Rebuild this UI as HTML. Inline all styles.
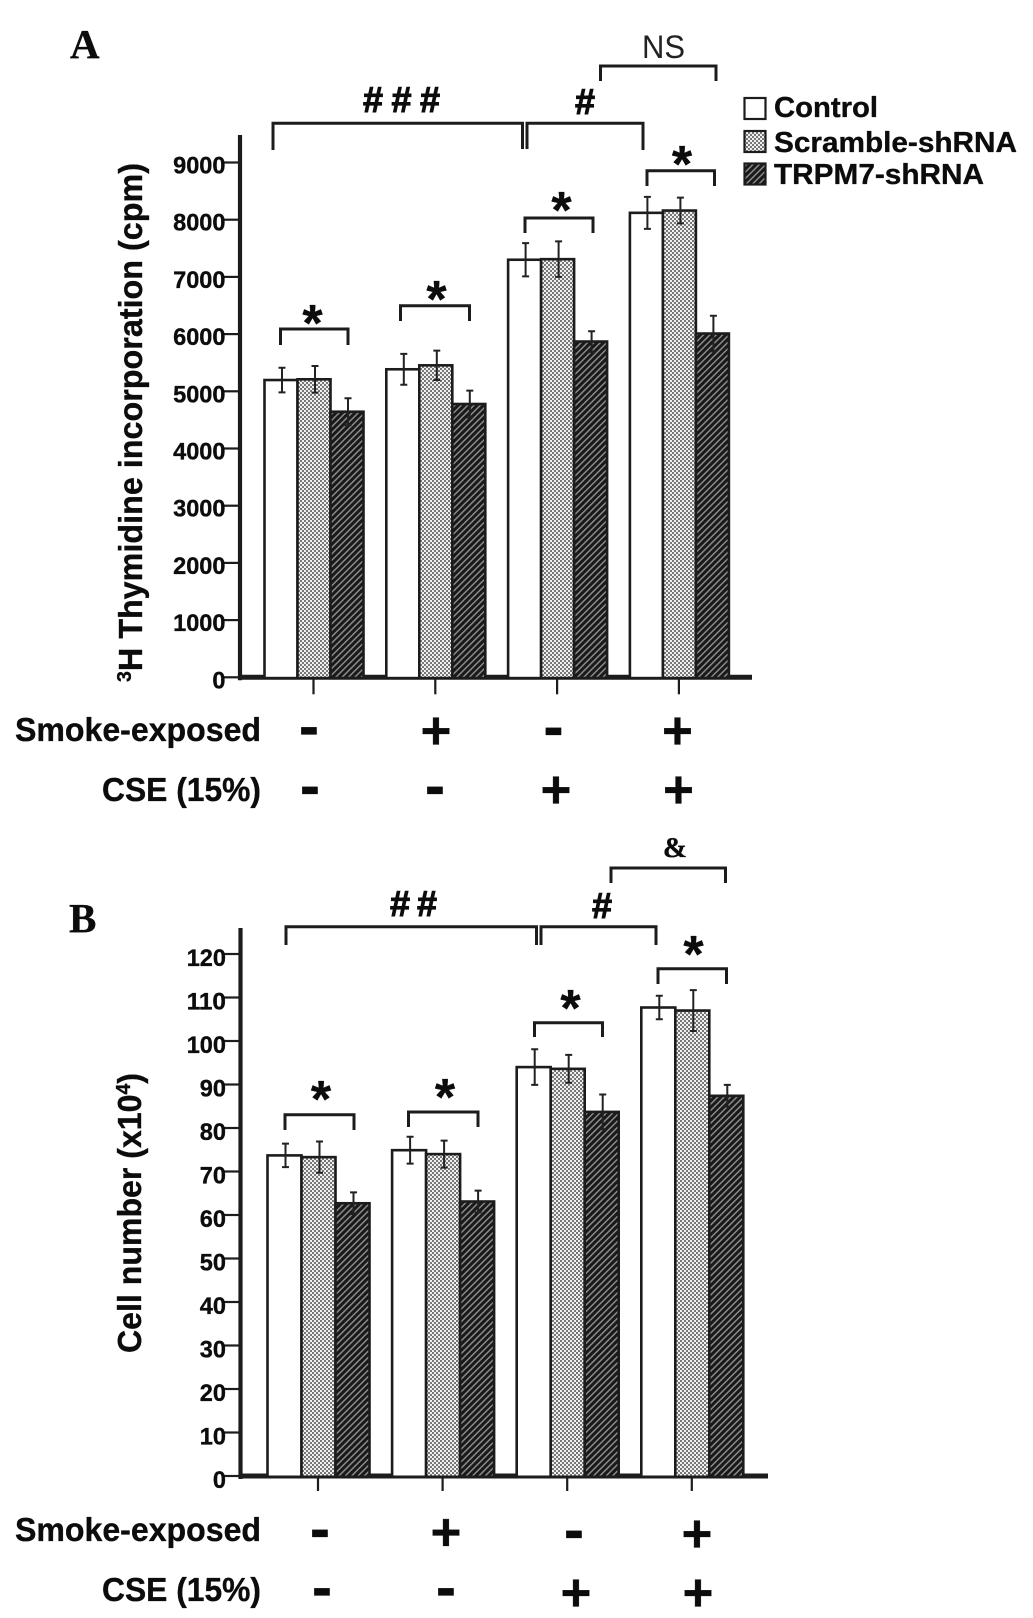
<!DOCTYPE html>
<html lang="en">
<head>
<meta charset="utf-8">
<title>Thymidine incorporation and cell number</title>
<style>
html,body{margin:0;padding:0;background:#fff;}
svg{display:block;}
text{font-family:"Liberation Sans",sans-serif;font-weight:bold;fill:#0c0c0c;stroke:#0c0c0c;stroke-width:.35px;}
.serif{font-family:"Liberation Serif",serif;}
.hash{stroke-width:1px;}
.bk{fill:none;stroke:#1c1c1c;stroke-width:3;}
</style>
</head>
<body>
<svg id="chart" xmlns="http://www.w3.org/2000/svg" width="1033" height="1618" viewBox="0 0 1033 1618">
<defs>
<pattern id="dots" width="4" height="4" patternUnits="userSpaceOnUse">
<rect width="4" height="4" fill="#f0f0f0"/>
<rect width="2" height="2" fill="#777"/>
<rect x="2" y="2" width="2" height="2" fill="#777"/>
</pattern>
<pattern id="hatch" width="4.500" height="4.500" patternUnits="userSpaceOnUse" patternTransform="rotate(45)">
<rect width="4.500" height="4.500" fill="#191919"/>
<rect width="1.500" height="4.500" fill="#8a8a8a"/>
</pattern>
</defs>
<rect width="1033" height="1618" fill="#fff"/>

<text class="serif" x="70" y="58" font-size="41">A</text>
<text class="serif" x="69" y="932" font-size="41">B</text>

<g>
<path class="bk" d="M273 150V123.300H522.500V149"/>
<path class="bk" d="M527 149V123.300H643V150"/>
<path class="bk" d="M600.500 81V66H716V81"/>
<path class="bk" d="M280.500 345V329H348V345"/>
<path class="bk" d="M400.500 321V305.700H469.500V321"/>
<path class="bk" d="M525 233V218H593V233"/>
<path class="bk" d="M647 186V170.700H714.500V186"/>
<text x="663.500" y="58" font-size="32" text-anchor="middle" textLength="43" lengthAdjust="spacingAndGlyphs" style="font-weight:normal;fill:#222;stroke:none">NS</text>
<text class="hash" x="363" y="112" font-size="36" letter-spacing="8.500">###</text>
<text class="hash" x="585" y="114" font-size="36" text-anchor="middle">#</text>
<text x="312.500" y="341" font-size="52" text-anchor="middle">*</text>
<text x="436.500" y="317" font-size="52" text-anchor="middle">*</text>
<text x="561.500" y="228" font-size="52" text-anchor="middle">*</text>
<text x="682" y="182" font-size="52" text-anchor="middle">*</text>
</g>

<g>
<g>
<rect x="744.500" y="98" width="21" height="21" fill="#fff" stroke="#1c1c1c" stroke-width="2.200"/>
<text x="774" y="117" font-size="29" textLength="104" lengthAdjust="spacingAndGlyphs">Control</text>
</g>
<g>
<rect x="744.500" y="131" width="21" height="21" fill="url(#dots)" stroke="#1c1c1c" stroke-width="2.200"/>
<text x="774" y="152" font-size="29" textLength="243" lengthAdjust="spacingAndGlyphs">Scramble-shRNA</text>
</g>
<g>
<rect x="744.500" y="163.500" width="21" height="21" fill="url(#hatch)" stroke="#1c1c1c" stroke-width="2.200"/>
<text x="774" y="184" font-size="29" textLength="210" lengthAdjust="spacingAndGlyphs">TRPM7-shRNA</text>
</g>
</g>

<text transform="translate(142,682) rotate(-90)" font-size="33" textLength="519" lengthAdjust="spacingAndGlyphs"><tspan font-size="20" dy="-11">3</tspan><tspan dy="11">H Thymidine incorporation (cpm)</tspan></text>

<text x="261" y="741" font-size="33" text-anchor="end" textLength="246" lengthAdjust="spacingAndGlyphs">Smoke-exposed</text>
<text x="261" y="801" font-size="33" text-anchor="end" textLength="159" lengthAdjust="spacingAndGlyphs">CSE (15%)</text>

<g>
<path class="bk" d="M286 945V926.700H536.500V945"/>
<path class="bk" d="M541 945V926.700H656V945"/>
<path class="bk" d="M611 883V868H725.500V883"/>
<path class="bk" d="M285 1130V1114.700H354V1130"/>
<path class="bk" d="M408.500 1127V1112H478V1127"/>
<path class="bk" d="M534.500 1037V1022.700H602.500V1037"/>
<path class="bk" d="M658 984V968.700H726.500V984"/>
<text class="serif" x="675" y="857" font-size="29" text-anchor="middle">&amp;</text>
<text class="hash" x="390" y="916" font-size="36" letter-spacing="7">##</text>
<text class="hash" x="602" y="918" font-size="36" text-anchor="middle">#</text>
<text x="321" y="1117" font-size="52" text-anchor="middle">*</text>
<text x="445" y="1115" font-size="52" text-anchor="middle">*</text>
<text x="570.500" y="1026" font-size="52" text-anchor="middle">*</text>
<text x="693.500" y="972" font-size="52" text-anchor="middle">*</text>
</g>

<text transform="translate(141,1353) rotate(-90)" font-size="33" textLength="280" lengthAdjust="spacingAndGlyphs"><tspan>Cell number (x10</tspan><tspan font-size="20" dy="-11">4</tspan><tspan dy="11">)</tspan></text>

<text x="261" y="1541" font-size="33" text-anchor="end" textLength="246" lengthAdjust="spacingAndGlyphs">Smoke-exposed</text>
<text x="261" y="1601" font-size="33" text-anchor="end" textLength="159" lengthAdjust="spacingAndGlyphs">CSE (15%)</text>

<g id="marks"></g>
</svg>
<script>
const seriesNames = ['control', 'scramble', 'trpm7'];
const seriesFills = ['#fff', 'url(#dots)', 'url(#hatch)'];

const ticksA = [0, 1000, 2000, 3000, 4000, 5000, 6000, 7000, 8000, 9000];
const controlA = [5197, 5385, 7300, 8120];
const scrambleA = [5210, 5454, 7310, 8160];
const trpm7A = [4643, 4778, 5870, 6010];
const controlErrA = [215, 270, 290, 280];
const scrambleErrA = [233, 257, 310, 225];
const trpm7ErrA = [236, 233, 180, 310];
const smokeA = ['-', '+', '-', '+'];
const cseA = ['-', '-', '+', '+'];

const ticksB = [0, 10, 20, 30, 40, 50, 60, 70, 80, 90, 100, 110, 120];
const controlB = [73.7, 74.9, 94, 107.7];
const scrambleB = [73.3, 74, 93.6, 107];
const trpm7B = [62.7, 63.1, 83.7, 87.4];
const controlErrB = [2.7, 3.1, 4.1, 2.7];
const scrambleErrB = [3.6, 3.1, 3.2, 4.7];
const trpm7ErrB = [2.5, 2.5, 4.0, 2.5];
const smokeB = ['-', '+', '-', '+'];
const cseB = ['-', '-', '+', '+'];

const NS = 'http://www.w3.org/2000/svg';
const root = document.getElementById('marks');

function yA(v) { return 677.3 - v * 0.0572; }
function yB(v) { return 1476 - v * 4.35; }
function xA(group, series) { return 264.5 + group * 121.8 + series * 33; }
function xB(group, series) { return 267.5 + group * 124.6 + series * 34; }

function make(tag, parent, attrs) {
  const el = document.createElementNS(NS, tag);
  for (const k in attrs) el.setAttribute(k, attrs[k]);
  parent.appendChild(el);
  return el;
}

function drawPanel(p) {
  const g = make('g', root, {});
  
  

  const yAxis = make('line', g, { x1: p.axisX, x2: p.axisX, y1: p.axisTop, y2: p.y(0) + 3, stroke: '#1c1c1c', 'stroke-width': 4.2 });
  
  

  const xAxis = make('line', g, { x1: p.axisX - 1, x2: p.axisEnd, y1: p.y(0), y2: p.y(0), stroke: '#1c1c1c', 'stroke-width': 5 });
  
  

  p.ticks.forEach(function (t) {
    const tick = make('line', g, { x1: p.axisX - 16, x2: p.axisX, y1: p.y(t), y2: p.y(t), stroke: '#1c1c1c', 'stroke-width': 2.2 });
    
    

    const label = make('text', g, { x: p.axisX - 14.5, y: p.y(t) + p.labelDy, 'font-size': 24.5, 'text-anchor': 'end', textLength: String(t).length * 13.1, lengthAdjust: 'spacingAndGlyphs' });
    label.textContent = t;
    
    
  });

  p.series.forEach(function (vals, s) {
    vals.forEach(function (v, i) {
      const x = p.x(i, s);
      const bar = make('rect', g, { x: x, y: p.y(v), width: p.w, height: p.y(0) + 0.8 - p.y(v), fill: seriesFills[s], stroke: '#1c1c1c', 'stroke-width': 2.6 });
      
      
    });
  });

  p.errs.forEach(function (vals, s) {
    vals.forEach(function (e, i) {
      const cx = p.x(i, s) + p.w / 2 + 1;
      const v = p.series[s][i];
      const hi = p.y(v + e);
      const lo = p.y(v - e);
      const err = make('path', g, { d: 'M' + (cx - 3.5) + ' ' + hi + 'H' + (cx + 3.5) + 'M' + cx + ' ' + hi + 'V' + lo + 'M' + (cx - 3.5) + ' ' + lo + 'H' + (cx + 3.5), fill: 'none', stroke: '#222', 'stroke-width': 2 });
      
      
    });
  });

  for (let i = 0; i < 4; i++) {
    const cx = p.x(i, 1) + p.w / 2 - 0.5;
    const tick = make('line', g, { x1: cx, x2: cx, y1: p.y(0), y2: p.y(0) + p.tickLen, stroke: '#1c1c1c', 'stroke-width': 2.2 });
    
    
  }

  function signs(row, values, centers, ys) {
    values.forEach(function (sym, i) {
      const plus = sym === '+';
      const t = make('text', g, { x: centers[i], y: ys[i] + (plus ? 17.5 : 16), 'font-size': plus ? 53 : 60, 'text-anchor': 'middle' });
      t.textContent = sym;
      
      
    });
  }
  signs('smoke', p.smoke, p.smokeCx, p.smokeCy);
  signs('cse', p.cse, p.cseCx, p.cseCy);
}

drawPanel({
  id: 'a', y: yA, x: xA, w: 33, axisX: 240, axisTop: 135, axisEnd: 752, tickLen: 17, labelDy: 11,
  ticks: ticksA, series: [controlA, scrambleA, trpm7A], errs: [controlErrA, scrambleErrA, trpm7ErrA],
  smoke: smokeA, cse: cseA,
  smokeCx: [309, 436, 553.5, 677.5], smokeCy: [730.5, 731, 731, 731],
  cseCx: [310, 435, 556, 678.5], cseCy: [790, 790, 790, 790]
});
drawPanel({
  id: 'b', y: yB, x: xB, w: 34, axisX: 240.5, axisTop: 928, axisEnd: 768, tickLen: 15, labelDy: 12,
  ticks: ticksB, series: [controlB, scrambleB, trpm7B], errs: [controlErrB, scrambleErrB, trpm7ErrB],
  smoke: smokeB, cse: cseB,
  smokeCx: [320, 446, 574, 697], smokeCy: [1533, 1532.7, 1534, 1534],
  cseCx: [322, 446, 576, 698], cseCy: [1591.7, 1591.7, 1593, 1593]
});
</script>
</body>
</html>
